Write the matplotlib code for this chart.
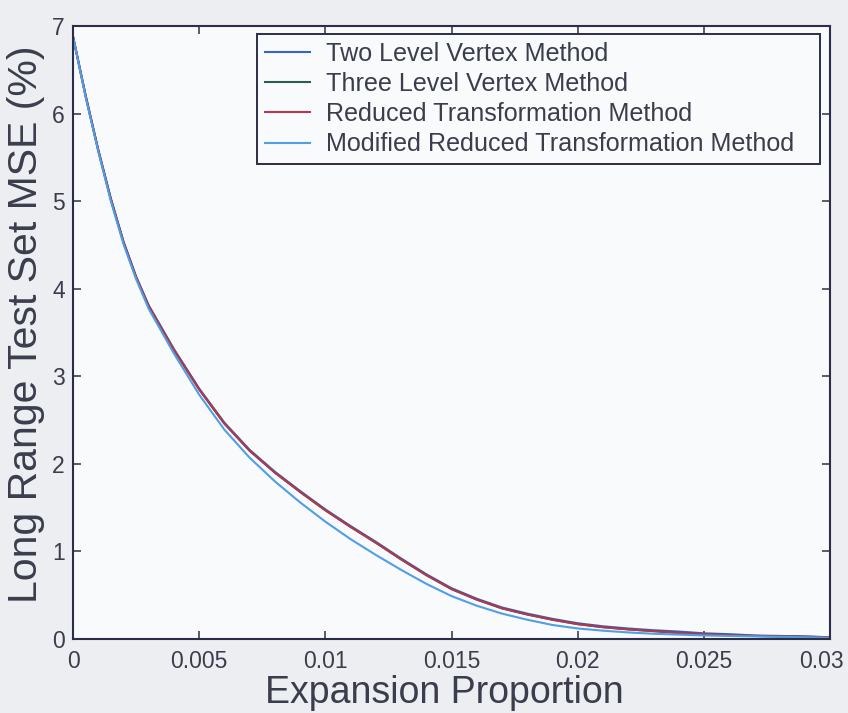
import matplotlib
matplotlib.use("Agg")
import matplotlib.pyplot as plt
from matplotlib.transforms import ScaledTranslation

# Expansion proportion sample points
expansion = [0.0, 0.0005, 0.001, 0.0015, 0.002, 0.0025, 0.003, 0.004, 0.005,
             0.006, 0.007, 0.008, 0.009, 0.010, 0.011, 0.012, 0.013, 0.014,
             0.015, 0.016, 0.017, 0.018, 0.019, 0.020, 0.021, 0.022, 0.023,
             0.024, 0.025, 0.026, 0.027, 0.028, 0.029, 0.030]

# Long range test set MSE (%) for each method
two_level_vertex = [6.88, 6.21, 5.59, 5.03, 4.54, 4.14, 3.81, 3.31, 2.86,
                    2.47, 2.16, 1.91, 1.69, 1.48, 1.29, 1.11, 0.92, 0.74,
                    0.58, 0.46, 0.36, 0.29, 0.23, 0.18, 0.145, 0.12, 0.10,
                    0.085, 0.065, 0.055, 0.04, 0.035, 0.03, 0.02]
three_level_vertex = [6.88, 6.20, 5.58, 5.02, 4.53, 4.13, 3.80, 3.30, 2.85,
                      2.46, 2.15, 1.90, 1.68, 1.47, 1.28, 1.10, 0.91, 0.73,
                      0.57, 0.45, 0.35, 0.28, 0.22, 0.17, 0.135, 0.11, 0.09,
                      0.07, 0.055, 0.045, 0.035, 0.03, 0.025, 0.02]
reduced_transformation = [6.88, 6.20, 5.58, 5.02, 4.53, 4.13, 3.80, 3.30, 2.85,
                          2.46, 2.15, 1.90, 1.68, 1.47, 1.28, 1.10, 0.91, 0.73,
                          0.57, 0.45, 0.35, 0.28, 0.22, 0.17, 0.135, 0.11, 0.09,
                          0.07, 0.055, 0.045, 0.035, 0.03, 0.025, 0.02]
modified_reduced_transformation = [6.88, 6.19, 5.57, 5.00, 4.51, 4.11, 3.77, 3.26,
                                   2.79, 2.39, 2.07, 1.80, 1.56, 1.34, 1.14, 0.96,
                                   0.79, 0.63, 0.49, 0.38, 0.29, 0.22, 0.16, 0.12,
                                   0.095, 0.075, 0.06, 0.05, 0.04, 0.035, 0.03,
                                   0.025, 0.02, 0.015]

series_labels = ["Two Level Vertex Method", "Three Level Vertex Method",
                 "Reduced Transformation Method",
                 "Modified Reduced Transformation Method"]
series_colors = ["#3566bd", "#2e5a4f", "#b3374f", "#4f9fe6"]

x_ticks = [0, 0.005, 0.01, 0.015, 0.02, 0.025, 0.03]
x_tick_labels = ["0", "0.005", "0.01", "0.015", "0.02", "0.025", "0.03"]
y_ticks = [0, 1, 2, 3, 4, 5, 6, 7]
y_tick_labels = ["0", "1", "2", "3", "4", "5", "6", "7"]

text_color = "#3a3d4c"
frame_color = "#2b2e48"

plt.rcParams["font.family"] = ["Liberation Sans", "DejaVu Sans"]

fig = plt.figure(figsize=(8.48, 7.13), dpi=100, facecolor="#eceef2")
ax = fig.add_axes([0.0861, 0.1038, 0.8927, 0.8597], facecolor="#f9fafc")

all_series = [two_level_vertex, three_level_vertex, reduced_transformation,
              modified_reduced_transformation]
for values, label, color in zip(all_series, series_labels, series_colors):
    ax.plot(expansion, values, color=color, linewidth=1.5, label=label)

ax.set_xlim(0, 0.03)
ax.set_ylim(0, 7)
ax.set_xticks(x_ticks)
ax.set_xticklabels(x_tick_labels)
ax.set_yticks(y_ticks)
ax.set_yticklabels(y_tick_labels)

ax.tick_params(axis="both", which="both", direction="in", length=6, width=1.1,
               color=frame_color, labelcolor=text_color, labelsize=16.5,
               top=True, right=True)
ax.tick_params(axis="x", pad=8)
ax.tick_params(axis="y", pad=6)
for spine in ax.spines.values():
    spine.set_color(frame_color)
    spine.set_linewidth(1.5)

# keep the last x tick label inside the figure edge
last_label = ax.get_xticklabels()[-1]
last_label.set_transform(last_label.get_transform()
                         + ScaledTranslation(-6 / 72, 0, fig.dpi_scale_trans))

ax.set_xlabel("Expansion Proportion", fontsize=27, color=text_color)
ax.set_ylabel("Long Range Test Set MSE (%)", fontsize=29.5, color=text_color)
ax.xaxis.set_label_coords(0.491, -0.058)
ax.yaxis.set_label_coords(-0.037, 0.513)

legend = ax.legend(loc="upper left", bbox_to_anchor=(0.243, 0.5, 0.744, 0.487),
                   mode="expand", borderaxespad=0, fontsize=18.1, frameon=True,
                   fancybox=False, handlelength=1.8, handletextpad=0.64,
                   labelspacing=0.25, borderpad=0.3, labelcolor=text_color)
frame = legend.get_frame()
frame.set_edgecolor(frame_color)
frame.set_linewidth(1.4)
frame.set_facecolor("#f9fafc")
frame.set_alpha(1.0)

fig.savefig("out.png", dpi=100, facecolor=fig.get_facecolor())
